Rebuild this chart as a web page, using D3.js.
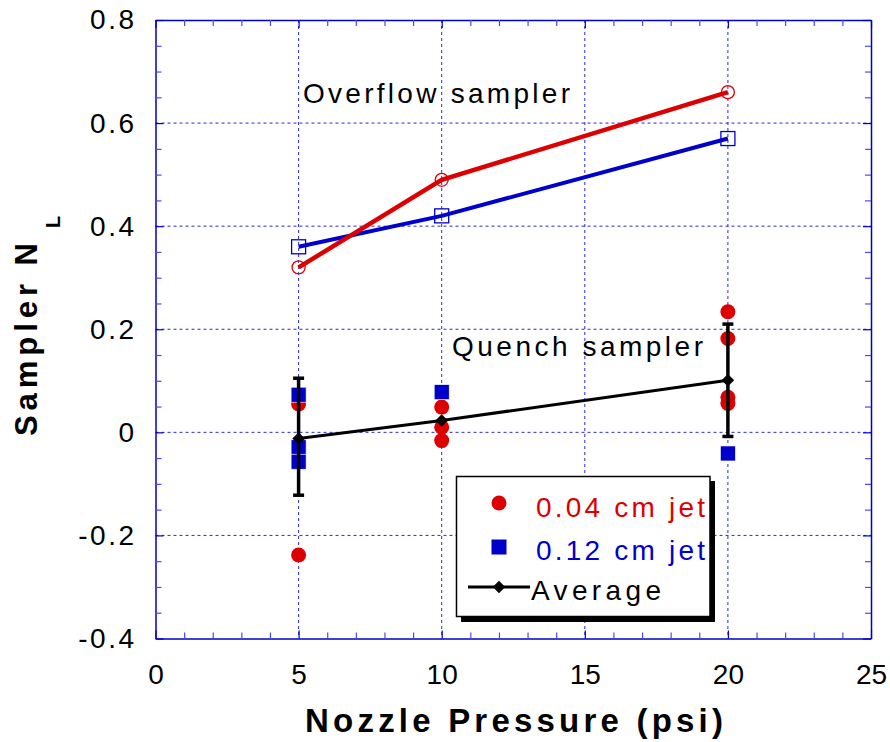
<!DOCTYPE html>
<html>
<head>
<meta charset="utf-8">
<script src="https://cdn.jsdelivr.net/npm/d3@7"></script>
<style>
  body { margin: 0; background: #fff; }
  svg text { font-family: "Liberation Sans", Arial, sans-serif; }
</style>
</head>
<body>
<div id="chart"></div>
<script>
// Chart size
var width = 890;
var height = 742;

// Data
const pressures = [5, 10, 20];
const overflowSmall = [0.32, 0.49, 0.66];   // 0.04 cm jet, overflow sampler
const overflowLarge = [0.36, 0.42, 0.57];   // 0.12 cm jet, overflow sampler

const quenchSmallX = [5, 5, 10, 10, 10, 20, 20, 20, 20];
const quenchSmallY = [0.055, -0.238, 0.049, 0.01, -0.016, 0.234, 0.182, 0.068, 0.056];
const quenchLargeX = [5, 5, 5, 10, 20];
const quenchLargeY = [0.073, -0.029, -0.057, 0.078, -0.041];

const averageY = [-0.012, 0.023, 0.101];
const averageLow = [-0.122, null, -0.008];
const averageHigh = [0.105, null, 0.21];

// Ticks
const xTicks = [0, 5, 10, 15, 20, 25];
const xTickLabels = ["0", "5", "10", "15", "20", "25"];
const yTicks = [-0.4, -0.2, 0, 0.2, 0.4, 0.6, 0.8];
const yTickLabels = ["-0.4", "-0.2", "0", "0.2", "0.4", "0.6", "0.8"];

var red = "#dd0000";
var blue = "#0000cc";

var svg = d3.select("#chart").append("svg")
    .attr("width", width)
    .attr("height", height);

// Scales
var x = d3.scaleLinear().domain([0, 25]).range([155.5, 871]);
var y = d3.scaleLinear().domain([-0.4, 0.8]).range([638.5, 20]);

var xMinor = d3.range(0, 25.01, 1).filter(function(d) { return d % 5 !== 0; });
var yMinor = d3.range(-8, 16.01, 1).map(function(d) { return d * 0.05; })
    .filter(function(d) { return Math.abs(Math.round(d * 100) % 20) !== 0; });

// Grid lines
var grid = svg.append("g");
grid.selectAll(".gx")
    .data(xTicks.slice(1, -1))
    .enter().append("line")
    .attr("x1", function(d) { return x(d); })
    .attr("x2", function(d) { return x(d); })
    .attr("y1", y(0.8))
    .attr("y2", y(-0.4));
grid.selectAll(".gy")
    .data(yTicks.slice(1, -1))
    .enter().append("line")
    .attr("x1", x(0))
    .attr("x2", x(25))
    .attr("y1", function(d) { return y(d); })
    .attr("y2", function(d) { return y(d); });
grid.selectAll("line")
    .attr("stroke", "#2a2ae8")
    .attr("stroke-width", 1)
    .attr("stroke-dasharray", "3,3");

// Axes (ticks point inward on all four sides)
function styleAxis(g, col) {
    g.select(".domain").attr("stroke", blue).attr("stroke-width", 1.5);
    g.selectAll(".tick line").attr("stroke", col).attr("stroke-width", 1.2);
    g.selectAll(".tick text")
        .attr("fill", "#000")
        .style("font-size", "28px")
        .style("font-family", "'Liberation Sans', Arial, sans-serif");
}

var xAxis = svg.append("g")
    .attr("transform", "translate(0," + y(-0.4) + ")")
    .call(d3.axisBottom(x).tickValues(xTicks).tickSizeInner(-8).tickSizeOuter(0)
        .tickPadding(26).tickFormat(function(d, i) { return xTickLabels[i]; }));
styleAxis(xAxis, blue);

var yAxis = svg.append("g")
    .attr("transform", "translate(" + x(0) + ",0)")
    .call(d3.axisLeft(y).tickValues(yTicks).tickSizeInner(-8).tickSizeOuter(0)
        .tickPadding(19).tickFormat(function(d, i) { return yTickLabels[i]; }));
styleAxis(yAxis, blue);
yAxis.selectAll(".tick text").style("letter-spacing", "2.5px");

var topAxis = svg.append("g")
    .attr("transform", "translate(0," + y(0.8) + ")")
    .call(d3.axisTop(x).tickValues(xTicks).tickSizeInner(-8).tickSizeOuter(0).tickFormat(""));
styleAxis(topAxis, blue);

var rightAxis = svg.append("g")
    .attr("transform", "translate(" + x(25) + ",0)")
    .call(d3.axisRight(y).tickValues(yTicks).tickSizeInner(-8).tickSizeOuter(0).tickFormat(""));
styleAxis(rightAxis, blue);

// minor ticks
[
    [d3.axisBottom(x).tickValues(xMinor), "translate(0," + y(-0.4) + ")"],
    [d3.axisTop(x).tickValues(xMinor), "translate(0," + y(0.8) + ")"],
    [d3.axisLeft(y).tickValues(yMinor), "translate(" + x(0) + ",0)"],
    [d3.axisRight(y).tickValues(yMinor), "translate(" + x(25) + ",0)"]
].forEach(function(a) {
    var g = svg.append("g")
        .attr("transform", a[1])
        .call(a[0].tickSizeInner(-6).tickSizeOuter(0).tickFormat(""));
    g.select(".domain").remove();
    g.selectAll(".tick line").attr("stroke", "#4a4af0").attr("stroke-width", 1.2);
});

// Overflow sampler lines
var line = d3.line()
    .x(function(d, i) { return x(pressures[i]); })
    .y(function(d) { return y(d); });

svg.append("path")
    .datum(overflowLarge)
    .attr("fill", "none")
    .attr("stroke", blue)
    .attr("stroke-width", 4)
    .attr("d", line);

svg.append("path")
    .datum(overflowSmall)
    .attr("fill", "none")
    .attr("stroke", red)
    .attr("stroke-width", 4.5)
    .attr("d", line);

svg.selectAll(".ovSq")
    .data(overflowLarge)
    .enter().append("rect")
    .attr("x", function(d, i) { return x(pressures[i]) - 7; })
    .attr("y", function(d) { return y(d) - 7; })
    .attr("width", 14)
    .attr("height", 14)
    .attr("fill", "none")
    .attr("stroke", blue)
    .attr("stroke-width", 1.3);

svg.selectAll(".ovCirc")
    .data(overflowSmall)
    .enter().append("circle")
    .attr("cx", function(d, i) { return x(pressures[i]); })
    .attr("cy", function(d) { return y(d); })
    .attr("r", 6.5)
    .attr("fill", "none")
    .attr("stroke", red)
    .attr("stroke-width", 1.3);

// Quench sampler points
svg.selectAll(".qRed")
    .data(quenchSmallY)
    .enter().append("circle")
    .attr("cx", function(d, i) { return x(quenchSmallX[i]); })
    .attr("cy", function(d) { return y(d); })
    .attr("r", 7.5)
    .attr("fill", red);

svg.selectAll(".qBlue")
    .data(quenchLargeY)
    .enter().append("rect")
    .attr("x", function(d, i) { return x(quenchLargeX[i]) - 7.5; })
    .attr("y", function(d) { return y(d) - 7.5; })
    .attr("width", 15)
    .attr("height", 15)
    .attr("fill", blue)
    .attr("stroke", "#fff")
    .attr("stroke-width", 0.6);

// Average line + error bars
svg.append("path")
    .datum(averageY)
    .attr("fill", "none")
    .attr("stroke", "#000")
    .attr("stroke-width", 3)
    .attr("d", line);

pressures.forEach(function(p, i) {
    if (averageLow[i] === null) return;
    var cx = x(p);
    svg.append("line")
        .attr("x1", cx).attr("x2", cx)
        .attr("y1", y(averageLow[i])).attr("y2", y(averageHigh[i]))
        .attr("stroke", "#000").attr("stroke-width", 3.5);
    [averageLow[i], averageHigh[i]].forEach(function(v) {
        svg.append("line")
            .attr("x1", cx - 5.5).attr("x2", cx + 5.5)
            .attr("y1", y(v)).attr("y2", y(v))
            .attr("stroke", "#000").attr("stroke-width", 3.5);
    });
});

var diamond = d3.symbol().type(d3.symbolSquare).size(78);
svg.selectAll(".avg")
    .data(averageY)
    .enter().append("path")
    .attr("d", diamond)
    .attr("transform", function(d, i) {
        return "translate(" + x(pressures[i]) + "," + y(d) + ") rotate(45)";
    })
    .attr("fill", "#000");

// Annotations
svg.append("text")
    .attr("x", 303).attr("y", 103)
    .attr("textLength", 267).attr("lengthAdjust", "spacing")
    .style("font-size", "28px")
    .text("Overflow sampler");

svg.append("text")
    .attr("x", 452).attr("y", 356)
    .attr("textLength", 251).attr("lengthAdjust", "spacing")
    .style("font-size", "28px")
    .text("Quench sampler");

// Legend
var legend = svg.append("g");
legend.append("rect")
    .attr("x", 461).attr("y", 481).attr("width", 254).attr("height", 141)
    .attr("fill", "#000");
legend.append("rect")
    .attr("x", 456.5).attr("y", 476.5).attr("width", 253.5).attr("height", 140)
    .attr("fill", "#fff").attr("stroke", "#000").attr("stroke-width", 1.5);

legend.append("circle")
    .attr("cx", 499).attr("cy", 503).attr("r", 7.5).attr("fill", red);
legend.append("text")
    .attr("x", 536).attr("y", 517)
    .attr("textLength", 169).attr("lengthAdjust", "spacing")
    .attr("fill", red).style("font-size", "28px")
    .text("0.04 cm jet");

legend.append("rect")
    .attr("x", 491.5).attr("y", 539.5).attr("width", 15).attr("height", 15).attr("fill", blue);
legend.append("text")
    .attr("x", 536).attr("y", 560)
    .attr("textLength", 169).attr("lengthAdjust", "spacing")
    .attr("fill", blue).style("font-size", "28px")
    .text("0.12 cm jet");

legend.append("line")
    .attr("x1", 468).attr("x2", 530).attr("y1", 587).attr("y2", 587)
    .attr("stroke", "#000").attr("stroke-width", 3);
legend.append("path")
    .attr("d", diamond)
    .attr("transform", "translate(499,587) rotate(45)")
    .attr("fill", "#000");
legend.append("text")
    .attr("x", 531).attr("y", 600)
    .attr("textLength", 130).attr("lengthAdjust", "spacing")
    .attr("fill", "#000").style("font-size", "28px")
    .text("Average");

// Axis titles
svg.append("text")
    .attr("x", 305).attr("y", 732)
    .attr("textLength", 418).attr("lengthAdjust", "spacing")
    .style("font-size", "33px").style("font-weight", "bold")
    .text("Nozzle Pressure (psi)");

var yTitle = svg.append("text")
    .attr("transform", "translate(37,436) rotate(-90)")
    .style("font-size", "31px").style("font-weight", "bold");
yTitle.append("tspan").text("Sampler N")
    .attr("textLength", 193).attr("lengthAdjust", "spacing");
yTitle.append("tspan").text("L")
    .attr("dx", 10).attr("dy", 23)
    .style("font-size", "20px");
</script>
</body>
</html>
